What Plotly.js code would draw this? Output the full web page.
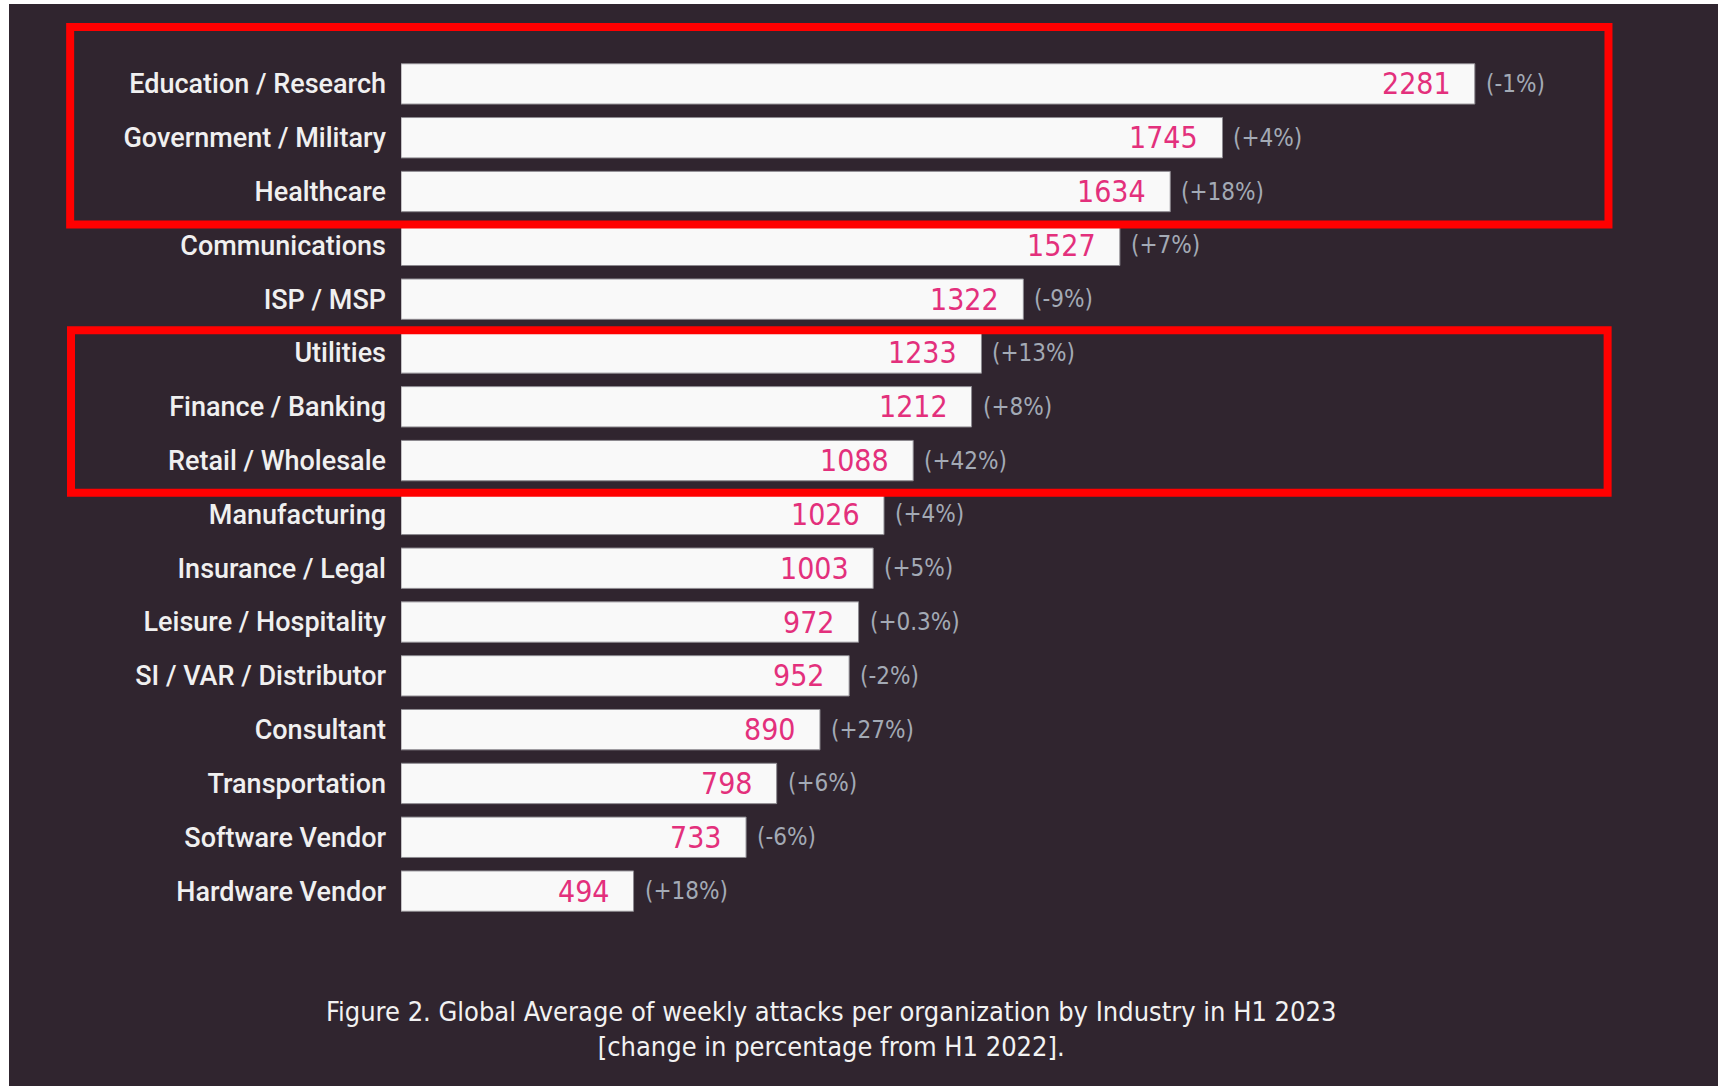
<!DOCTYPE html>
<html>
<head>
<meta charset="utf-8">
<script src="https://cdn.plot.ly/plotly-3.0.1.min.js"></script>
<style>
  html, body { margin: 0; padding: 0; background: #ffffff; width: 1718px; height: 1086px; overflow: hidden; }
  #chart { position: absolute; left: 9px; top: 4px; width: 1709px; height: 1082px; }
</style>
</head>
<body>
<div id="chart"></div>
<script>
const industries = [
  "Education / Research", "Government / Military", "Healthcare", "Communications",
  "ISP / MSP", "Utilities", "Finance / Banking", "Retail / Wholesale",
  "Manufacturing", "Insurance / Legal", "Leisure / Hospitality", "SI / VAR / Distributor",
  "Consultant", "Transportation", "Software Vendor", "Hardware Vendor"
];
const attacks = [2281, 1745, 1634, 1527, 1322, 1233, 1212, 1088, 1026, 1003, 972, 952, 890, 798, 733, 494];
const changes = ["(-1%)", "(+4%)", "(+18%)", "(+7%)", "(-9%)", "(+13%)", "(+8%)", "(+42%)",
                 "(+4%)", "(+5%)", "(+0.3%)", "(-2%)", "(+27%)", "(+6%)", "(-6%)", "(+18%)"];
const captionText = "Figure 2. Global Average of weekly attacks per organization by Industry in H1 2023<br>[change in percentage from H1 2022].";

const BG = "#30252f";
const PINK = "#e3307c";
const GREY = "#a3aab5";
const NARROW = "Liberation Sans Narrow, DejaVu Sans Condensed, sans-serif";

const trace = {
  type: "bar",
  orientation: "h",
  x: attacks,
  y: industries,
  marker: { color: "#f9f9f9", line: { color: "#8d8a90", width: 1 } },
  hoverinfo: "x+y"
};

const annotations = [];
industries.forEach((c, i) => {
  annotations.push({
    x: attacks[i], y: c, xref: "x", yref: "y",
    text: String(attacks[i]), showarrow: false,
    xanchor: "right", yanchor: "middle", xshift: -22, yshift: 0,
    font: { family: NARROW, size: 30, color: PINK }
  });
  annotations.push({
    x: attacks[i], y: c, xref: "x", yref: "y",
    text: changes[i], showarrow: false,
    xanchor: "left", yanchor: "middle", xshift: 9, yshift: 0,
    font: { family: NARROW, size: 24, color: GREY }
  });
});
annotations.push({
  x: 0.3512, y: -0.1293, xref: "paper", yref: "paper",
  text: captionText, showarrow: false, xanchor: "center", yanchor: "middle",
  align: "center",
  font: { family: NARROW, size: 27, color: "#f2f2f2" }
});

const boxLine = { color: "#ff0000", width: 8 };
const shapes = [
  { type: "rect", xref: "paper", yref: "paper", x0: -0.2703, x1: 0.9865, y0: 0.8054, y1: 1.0347, line: boxLine, layer: "above" },
  { type: "rect", xref: "paper", yref: "paper", x0: -0.2696, x1: 0.9858, y0: 0.4940, y1: 0.6825, line: boxLine, layer: "above" }
];

const layout = {
  width: 1709, height: 1082,
  paper_bgcolor: BG, plot_bgcolor: BG,
  margin: { l: 392, r: 92.5, t: 53.4, b: 167.8, pad: 0 },
  bargap: 0.25,
  showlegend: false,
  xaxis: { range: [0, 2600], visible: false, fixedrange: true },
  yaxis: {
    type: "category", autorange: "reversed",
    showgrid: false, zeroline: false, showline: false, ticks: "",
    ticklabelstandoff: 14,
    tickfont: { family: "Roboto, Lato, sans-serif", size: 27, weight: 500, color: "#f0f0f0" },
    fixedrange: true
  },
  annotations: annotations,
  shapes: shapes
};

Plotly.newPlot("chart", [trace], layout, { displayModeBar: false, staticPlot: true });
</script>
</body>
</html>
